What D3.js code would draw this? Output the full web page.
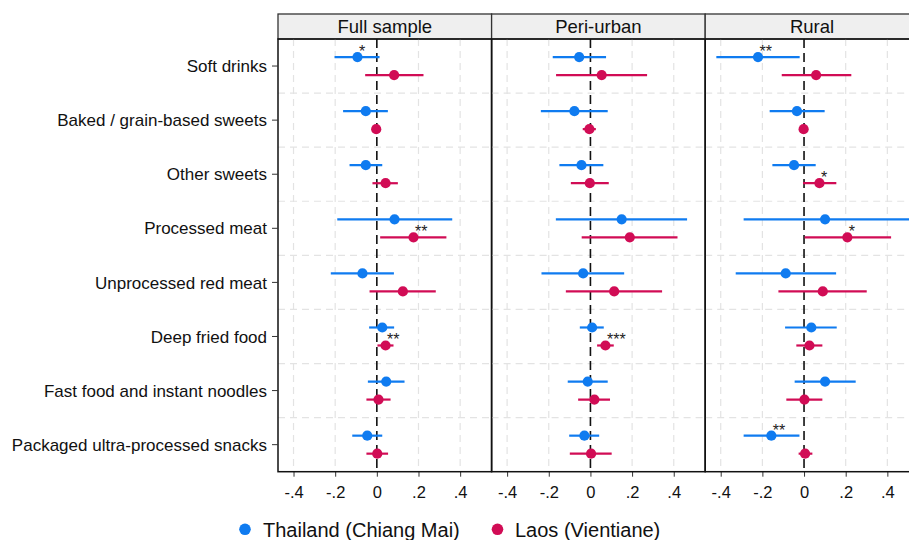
<!DOCTYPE html>
<html><head><meta charset="utf-8">
<script src="https://cdn.jsdelivr.net/npm/d3@7"></script>
<style>body{margin:0;background:#fff;}svg{display:block;font-family:"Liberation Sans",Arial,sans-serif;}</style>
</head><body>
<svg id="c" width="909" height="540"></svg>
<script>
const categories = ["Soft drinks","Baked / grain-based sweets","Other sweets","Processed meat","Unprocessed red meat","Deep fried food","Fast food and instant noodles","Packaged ultra-processed snacks"];
const panels = ["Full sample","Peri-urban","Rural"];
const seriesNames = ["Thailand (Chiang Mai)","Laos (Vientiane)"];
const xTicks = [-0.4,-0.2,0,0.2,0.4];
const xTickLabels = ["-.4","-.2","0",".2",".4"];
// [estimate, lower CI, upper CI, stars]
const fullThai = [[-0.093,-0.203,0.013,"*"],[-0.053,-0.162,0.053,""],[-0.053,-0.131,0.026,""],[0.085,-0.19,0.362,""],[-0.069,-0.221,0.082,""],[0.026,-0.037,0.083,""],[0.045,-0.043,0.133,""],[-0.046,-0.118,0.026,""]];
const fullLaos = [[0.083,-0.056,0.224,""],[-0.003,-0.012,0.006,""],[0.042,-0.021,0.101,""],[0.176,0.016,0.334,"**"],[0.125,-0.035,0.283,""],[0.042,0.003,0.08,"**"],[0.008,-0.05,0.066,""],[0.002,-0.05,0.054,""]];
const periThai = [[-0.054,-0.181,0.075,""],[-0.077,-0.238,0.083,""],[-0.043,-0.149,0.062,""],[0.150,-0.166,0.464,""],[-0.035,-0.235,0.162,""],[0.008,-0.051,0.064,""],[-0.013,-0.109,0.083,""],[-0.029,-0.102,0.042,""]];
const periLaos = [[0.054,-0.165,0.272,""],[-0.005,-0.037,0.026,""],[-0.003,-0.094,0.088,""],[0.189,-0.042,0.418,""],[0.114,-0.118,0.344,""],[0.072,0.032,0.112,"***"],[0.019,-0.059,0.094,""],[0.003,-0.099,0.102,""]];
const ruralThai = [[-0.221,-0.421,-0.021,"**"],[-0.034,-0.165,0.099,""],[-0.048,-0.152,0.056,""],[0.101,-0.29,0.52,""],[-0.088,-0.328,0.154,""],[0.035,-0.091,0.157,""],[0.101,-0.045,0.248,""],[-0.157,-0.29,-0.022,"**"]];
const ruralLaos = [[0.058,-0.107,0.227,""],[-0.002,-0.011,0.007,""],[0.074,-0.005,0.155,"*"],[0.208,0.003,0.418,"*"],[0.090,-0.123,0.301,""],[0.026,-0.037,0.088,""],[0.002,-0.085,0.088,""],[0.005,-0.026,0.04,""]];
const panelData = [[fullThai,fullLaos],[periThai,periLaos],[ruralThai,ruralLaos]];
const colors = ["#0f7bf0","#d10c55"];

const svg = d3.select("#c");
const pLeft = 278, pW = 213.6, hTop = 14, pTop = 39, pBot = 471.7;
const y = d3.scaleBand().domain(categories).range([pTop,pBot]).padding(0);
const off = [-9, 9];

panels.forEach((name, pi) => {
  const x0 = pLeft + pi*pW;
  const x = d3.scaleLinear().domain([-0.4745, 0.551]).range([x0, x0+pW]);
  const g = svg.append("g");
  // header
  g.append("rect").attr("x",x0).attr("y",hTop).attr("width",pW).attr("height",pTop-hTop)
    .attr("fill","#efefef").attr("stroke","#333").attr("stroke-width",1.3);
  g.append("text").attr("x",x0+pW/2).attr("y",33.3).attr("text-anchor","middle")
    .attr("font-size",18.5).attr("fill","#111").text(name);
  // grid
  xTicks.filter(t=>t!==0).forEach(t=>{
    g.append("line").attr("x1",x(t)).attr("x2",x(t)).attr("y1",pTop).attr("y2",pBot)
      .attr("stroke","#e3e3e3").attr("stroke-width",1.2).attr("stroke-dasharray","7,5");
  });
  categories.slice(1).forEach(c=>{
    g.append("line").attr("x1",x0).attr("x2",x0+pW).attr("y1",y(c)).attr("y2",y(c))
      .attr("stroke","#e3e3e3").attr("stroke-width",1.2).attr("stroke-dasharray","7,5");
  });
  // zero line
  g.append("line").attr("x1",x(0)).attr("x2",x(0)).attr("y1",pTop).attr("y2",pBot)
    .attr("stroke","#111").attr("stroke-width",1.6).attr("stroke-dasharray","9,5");
  // x axis
  const ax = d3.axisBottom(x).tickValues(xTicks).tickFormat((d,i)=>xTickLabels[i]).tickSize(5).tickPadding(10);
  const axg = g.append("g").attr("transform",`translate(0,${pBot})`).call(ax);
  axg.select(".domain").remove();
  axg.selectAll(".tick line").attr("stroke","#333").attr("stroke-width",1);
  axg.selectAll(".tick text").attr("font-size",16.5).attr("fill","#111").attr("font-family","Liberation Sans, Arial, sans-serif");
  // series
  panelData[pi].forEach((ser, si) => {
    const sg = g.append("g");
    sg.selectAll("line.ci").data(ser).join("line").attr("class","ci")
      .attr("x1",d=>x(d[1])).attr("x2",d=>x(d[2]))
      .attr("y1",(d,i)=>y(categories[i])+y.bandwidth()/2+off[si])
      .attr("y2",(d,i)=>y(categories[i])+y.bandwidth()/2+off[si])
      .attr("stroke",colors[si]).attr("stroke-width",2.2);
    sg.selectAll("circle").data(ser).join("circle")
      .attr("cx",d=>x(d[0])).attr("cy",(d,i)=>y(categories[i])+y.bandwidth()/2+off[si])
      .attr("r",5.1).attr("fill",colors[si]);
    sg.selectAll("text").data(ser).join("text")
      .attr("x",d=>x(d[0])+1.5).attr("y",(d,i)=>y(categories[i])+y.bandwidth()/2+off[si])
      .attr("font-size",16).attr("fill","#222").text(d=>d[3]);
  });
  // border
  g.append("rect").attr("x",x0).attr("y",pTop).attr("width",pW).attr("height",pBot-pTop)
    .attr("fill","none").attr("stroke","#111").attr("stroke-width",1.5);
});

// y axis
const yax = d3.axisLeft(y).tickSize(6).tickPadding(5);
const yg = svg.append("g").attr("transform",`translate(${pLeft},0)`).call(yax);
yg.select(".domain").remove();
yg.selectAll(".tick line").attr("stroke","#333");
yg.selectAll(".tick text").attr("font-size",17).attr("fill","#111").attr("font-family","Liberation Sans, Arial, sans-serif").attr("dy","0.36em");

// legend
const leg = [[245,263],[497.5,515]];
seriesNames.forEach((n,i)=>{
  svg.append("circle").attr("cx",leg[i][0]).attr("cy",529.3).attr("r",5.8).attr("fill",colors[i]);
  svg.append("text").attr("x",leg[i][1]).attr("y",536.5).attr("font-size",20).attr("fill","#111").text(n);
});
</script>
</body></html>
